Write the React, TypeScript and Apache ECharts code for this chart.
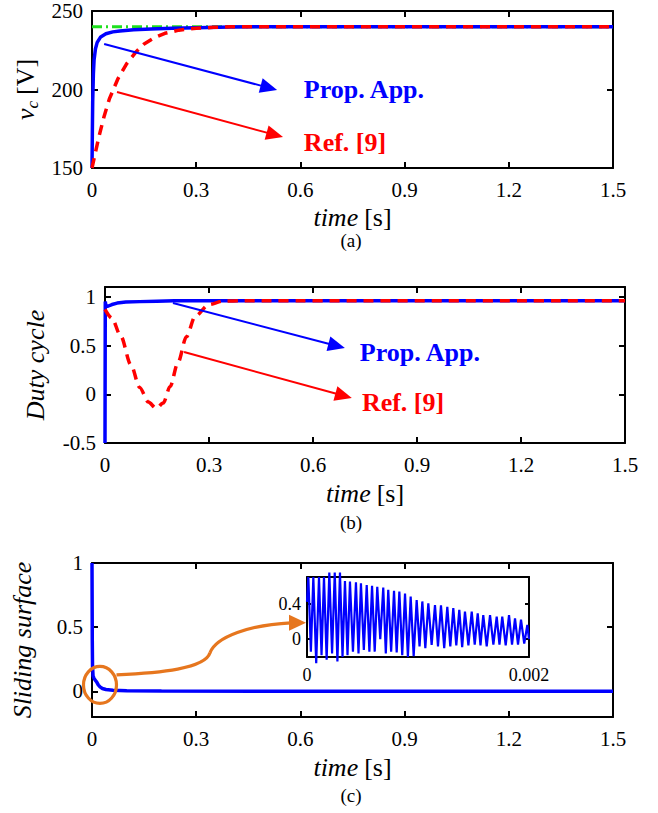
import React, { useEffect, useRef } from "react";
import * as echarts from "echarts";

// ---------- data ----------
// (a) capacitor voltage
const refATime = [0, 1.5];
const refAValue = [240, 240];
const propATime = [0, 0.001, 0.002, 0.004, 0.006, 0.01, 0.015, 0.025, 0.04, 0.06, 0.08, 0.12, 0.17, 0.23, 0.3, 0.4, 0.5, 0.7, 1.5];
const propAValue = [150, 172, 192, 210, 219, 226, 230, 233.5, 235.5, 236.7, 237.3, 238, 238.5, 239, 239.4, 239.8, 240, 240, 240];
const ref9ATime = [0, 0.01, 0.02, 0.035, 0.05, 0.075, 0.1, 0.125, 0.15, 0.18, 0.21, 0.25, 0.3, 0.35, 0.4, 1.5];
const ref9AValue = [150, 160, 170, 183, 194, 207, 216.5, 223.5, 229, 233, 235.8, 237.8, 239, 239.6, 240, 240];

// (b) duty cycle
const propBTime = [0, 0.0008, 0.003, 0.01, 0.02, 0.035, 0.06, 0.1, 0.15, 0.2, 0.3, 0.5, 1.5];
const propBValue = [-0.5, 0.95, 0.9, 0.905, 0.92, 0.935, 0.945, 0.95, 0.955, 0.958, 0.96, 0.96, 0.96];
const ref9BTime = [0, 0.02, 0.045, 0.075, 0.1, 0.125, 0.148, 0.168, 0.188, 0.21, 0.235, 0.26, 0.3, 0.34, 0.4, 1.5];
const ref9BValue = [0.87, 0.78, 0.6, 0.3, 0.07, -0.08, -0.145, -0.09, 0.08, 0.32, 0.59, 0.8, 0.92, 0.955, 0.96, 0.96];

// (c) sliding surface
const slideTime = [0, 0.0008, 0.0015, 0.003, 0.006, 0.01, 0.014, 0.018, 0.023, 0.03, 0.04, 0.06, 0.1, 0.2, 1.5];
const slideValue = [1, 0.4, 0.2, 0.12, 0.1, 0.085, 0.07, 0.05, 0.035, 0.022, 0.014, 0.008, 0.004, 0.002, 0];

// (c) inset: first 2 ms of the sliding surface
const insetTime = [
  0, 0.000012, 0.000035, 0.000057, 0.000083, 0.000108, 0.000131, 0.000153, 0.000177, 0.000201, 0.000226,
  0.00025, 0.000274, 0.000297, 0.00032, 0.000342, 0.000365, 0.000387, 0.000414, 0.000441, 0.000464,
  0.000486, 0.000512, 0.000538, 0.000562, 0.000586, 0.00061, 0.000633, 0.00066, 0.000687, 0.00071,
  0.000732, 0.000758, 0.000784, 0.000808, 0.000832, 0.000858, 0.000883, 0.000909, 0.000934, 0.000961,
  0.000988, 0.001014, 0.001039, 0.001066, 0.001093, 0.001123, 0.001153, 0.00118, 0.001207, 0.001236,
  0.001264, 0.001291, 0.001318, 0.001345, 0.001372, 0.001398, 0.001423, 0.001454, 0.001484, 0.001511,
  0.001538, 0.001563, 0.001588, 0.001619, 0.001649, 0.001679, 0.001709, 0.001734, 0.001759, 0.00179,
  0.00182, 0.001847, 0.001874, 0.001901, 0.001928, 0.001957, 0.001985, 0.002,
];
const insetValue = [
  0.42, 0.7, -0.14, 0.7, -0.27, 0.7, -0.18, 0.7, -0.23, 0.75, -0.16,
  0.75, -0.25, 0.75, -0.2, 0.655, -0.18, 0.65, -0.14, 0.64, -0.16,
  0.63, -0.12, 0.61, -0.14, 0.6, -0.14, 0.59, 0.0, 0.58, -0.16,
  0.555, -0.14, 0.545, -0.15, 0.535, -0.18, 0.515, -0.2, 0.48, -0.19,
  0.44, -0.08, 0.425, -0.1, 0.405, -0.065, 0.385, -0.08, 0.38, -0.1,
  0.365, -0.08, 0.35, -0.07, 0.33, -0.09, 0.31, -0.07, 0.31, -0.06,
  0.29, -0.07, 0.27, -0.08, 0.27, -0.06, 0.255, -0.06, 0.255, -0.07,
  0.27, -0.06, 0.235, -0.06, 0.22, -0.05, 0.16, 0.0,
];

// tick values
const timeTicks = [0, 0.3, 0.6, 0.9, 1.2, 1.5];
const vcTicks = [150, 200, 250];
const dutyTicks = [-0.5, 0, 0.5, 1];
const slideTicks = [0, 0.5, 1];
const insetXTicks = [0, 0.002];
const insetYTicks = [0, 0.4];

// ---------- styling ----------
const FONT = "Liberation Serif";
const BLUE = "#0000FF";
const RED = "#FF0000";
const GREEN = "#1EE01E";
const ORANGE = "#E6761E";

const zip = (t: number[], v: number[]) => t.map((x, i) => [x, v[i]]);

function xPair(g: number, min: number, max: number, ticks: number[], opt: any) {
  const line = { show: true, onZero: false, lineStyle: { color: "#000", width: opt.lw ?? 2 } };
  const tick = { show: true, inside: true, length: opt.tl ?? 6, customValues: ticks, lineStyle: { color: "#000", width: opt.lw ?? 2 } };
  return [
    {
      type: "value", gridIndex: g, position: "bottom", min, max,
      axisLine: line, axisTick: tick, splitLine: { show: false },
      axisLabel: { show: true, customValues: ticks, color: "#000", fontFamily: FONT, fontSize: opt.fs ?? 21, margin: opt.margin ?? 11, formatter: (v: number) => String(v) },
      name: opt.name ?? "", nameLocation: "middle", nameGap: opt.nameGap ?? 36,
      nameTextStyle: {
        fontWeight: "normal", fontFamily: FONT,
        rich: {
          i: { fontFamily: FONT, fontStyle: "italic", fontWeight: "normal", fontSize: 26, color: "#000" },
          n: { fontFamily: FONT, fontWeight: "normal", fontSize: 26, color: "#000", padding: [0, 0, 0, 6] },
        },
      },
    },
    {
      type: "value", gridIndex: g, position: "top", min, max,
      axisLine: line, axisTick: opt.topTicks === false ? { show: false } : tick, splitLine: { show: false }, axisLabel: { show: false },
    },
  ];
}

function yPair(g: number, min: number, max: number, ticks: number[], opt: any) {
  const line = { show: true, onZero: false, lineStyle: { color: "#000", width: opt.lw ?? 2 } };
  const tick = { show: true, inside: true, length: opt.tl ?? 6, customValues: ticks, lineStyle: { color: "#000", width: opt.lw ?? 2 } };
  return [
    {
      type: "value", gridIndex: g, position: "left", min, max,
      axisLine: line, axisTick: tick, splitLine: { show: false },
      axisLabel: { show: true, customValues: ticks, color: "#000", fontFamily: FONT, fontSize: opt.fs ?? 21, margin: opt.margin ?? 9, formatter: (v: number) => String(v) },
      name: opt.name ?? "", nameLocation: "middle", nameRotate: 90, nameGap: opt.nameGap ?? 50,
      nameTextStyle: {
        fontWeight: "normal", fontFamily: FONT,
        rich: {
          i: { fontFamily: FONT, fontStyle: "italic", fontWeight: "normal", fontSize: 26, color: "#000", lineHeight: 30 },
          s: { fontFamily: FONT, fontStyle: "italic", fontWeight: "normal", fontSize: 17, color: "#000", verticalAlign: "bottom", lineHeight: 30 },
          n: { fontFamily: FONT, fontWeight: "normal", fontSize: 26, color: "#000", lineHeight: 30, padding: [0, 0, 0, 6] },
        },
      },
    },
    {
      type: "value", gridIndex: g, position: "right", min, max,
      axisLine: line, axisTick: tick, splitLine: { show: false }, axisLabel: { show: false },
    },
  ];
}

function lineSeries(xi: number, data: number[][], color: string, width: number, type: any, extra: any = {}) {
  return {
    type: "line", xAxisIndex: xi, yAxisIndex: xi, data, showSymbol: false, symbol: "none", silent: true,
    lineStyle: { color, width, type }, ...extra,
  };
}

function arrow(p0: number[], p1: number[], color: string, head = 17, hw = 7.5, lw = 2) {
  const dx = p1[0] - p0[0];
  const dy = p1[1] - p0[1];
  const L = Math.hypot(dx, dy);
  const ux = dx / L, uy = dy / L;
  const bx = p1[0] - ux * head, by = p1[1] - uy * head;
  const nx = -uy, ny = ux;
  return [
    { type: "line", z: 100, shape: { x1: p0[0], y1: p0[1], x2: bx + ux * 2, y2: by + uy * 2 }, style: { stroke: color, lineWidth: lw } },
    { type: "polygon", z: 100, shape: { points: [[p1[0], p1[1]], [bx + nx * hw, by + ny * hw], [bx - nx * hw, by - ny * hw]] }, style: { fill: color } },
  ];
}

export default function App() {
  const ref = useRef<HTMLDivElement>(null);
  useEffect(() => {
    if (!ref.current) return;
    const chart = echarts.init(ref.current, undefined, { renderer: "svg" });
    const option: any = {
      animation: false,
      backgroundColor: "#fff",
      grid: [
        { left: 92, top: 11, width: 521, height: 157 },
        { left: 105, top: 287, width: 520, height: 156 },
        { left: 92, top: 563, width: 521, height: 154 },
        { left: 307, top: 577, width: 222, height: 80, show: true, backgroundColor: "#fff", borderWidth: 0 },
      ],
      xAxis: [
        ...xPair(0, 0, 1.5, timeTicks, { name: "{i|time}{n|[s]}", nameGap: 36 }),
        ...xPair(1, 0, 1.5, timeTicks, { name: "{i|time}{n|[s]}", nameGap: 37 }),
        ...xPair(2, 0, 1.5, timeTicks, { name: "{i|time}{n|[s]}", nameGap: 37 }),
        ...xPair(3, 0, 0.002, insetXTicks, { fs: 18, margin: 9, tl: 4, topTicks: false }),
      ],
      yAxis: [
        ...yPair(0, 150, 250, vcTicks, { name: "{i|v}{s|c}{n|[V]}", nameGap: 48 }),
        ...yPair(1, -0.5, 1.1, dutyTicks, { name: "{i|Duty cycle}", nameGap: 55 }),
        ...yPair(2, -0.2, 1, slideTicks, { name: "{i|Sliding surface}", nameGap: 55 }),
        ...yPair(3, -0.2, 0.7, insetYTicks, { fs: 18, margin: 6, tl: 4 }),
      ],
      series: [
        lineSeries(0, zip(refATime, refAValue), GREEN, 3, [10, 4, 2, 4]),
        lineSeries(0, zip(propATime, propAValue), BLUE, 3.5, "solid"),
        lineSeries(0, zip(ref9ATime, ref9AValue), RED, 3.5, [10, 7]),
        lineSeries(2, zip(propBTime, propBValue), BLUE, 3.5, "solid"),
        lineSeries(2, zip(ref9BTime, ref9BValue), RED, 3.5, [10, 7], { smooth: 0.3, smoothMonotone: "x" }),
        lineSeries(4, zip(slideTime, slideValue), BLUE, 3.5, "solid"),
        lineSeries(6, zip(insetTime, insetValue), BLUE, 2.2, "solid", { clip: false }),
      ],
    };
    chart.setOption(option);

    const px = (xi: number, p: number[]) => chart.convertToPixel({ xAxisIndex: xi, yAxisIndex: xi } as any, p) as number[];

    const textStyle = (color: string) => ({ fill: color, font: `bold 26px ${FONT}`, textVerticalAlign: "middle", textAlign: "left" });
    const graphic: any[] = [];
    // (a) arrows and labels
    graphic.push(...arrow(px(0, [0.035, 229]), px(0, [0.533, 199.7]), BLUE));
    graphic.push(...arrow(px(0, [0.072, 198.4]), px(0, [0.55, 169.7]), RED));
    const aP = px(0, [0.61, 199.7]);
    const aR = px(0, [0.61, 166]);
    graphic.push({ type: "text", z: 100, x: aP[0], y: aP[1], style: { text: "Prop. App.", ...textStyle(BLUE) } });
    graphic.push({ type: "text", z: 100, x: aR[0], y: aR[1], style: { text: "Ref. [9]", ...textStyle(RED) } });
    // (b) arrows and labels
    graphic.push(...arrow(px(2, [0.196, 0.936]), px(2, [0.692, 0.474]), BLUE));
    graphic.push(...arrow(px(2, [0.228, 0.433]), px(2, [0.712, -0.038]), RED));
    const bP = px(2, [0.735, 0.433]);
    const bR = px(2, [0.741, -0.08]);
    graphic.push({ type: "text", z: 100, x: bP[0], y: bP[1], style: { text: "Prop. App.", ...textStyle(BLUE) } });
    graphic.push({ type: "text", z: 100, x: bR[0], y: bR[1], style: { text: "Ref. [9]", ...textStyle(RED) } });
    // (c) zoom circle and connector to inset
    const c = px(4, [0.023, 0.05]);
    graphic.push({ type: "ellipse", z: 100, shape: { cx: c[0], cy: c[1], rx: 16.5, ry: 18.5 }, style: { stroke: ORANGE, lineWidth: 3.2, fill: "none" } });
    const s0 = [c[0] + 16.5, c[1] - 10];
    const tip = px(6, [0, 0.185]);
    const mid = [210, (s0[1] + tip[1]) / 2 + 4];
    graphic.push({ type: "bezierCurve", z: 100, shape: { x1: s0[0], y1: s0[1], cpx1: 160, cpy1: s0[1] - 2, cpx2: 205, cpy2: mid[1] + 16, x2: mid[0], y2: mid[1] }, style: { stroke: ORANGE, lineWidth: 3.2, fill: "none" } });
    graphic.push({ type: "bezierCurve", z: 100, shape: { x1: mid[0], y1: mid[1], cpx1: 216, cpy1: mid[1] - 16, cpx2: 250, cpy2: tip[1] + 2, x2: tip[0] - 16, y2: tip[1] }, style: { stroke: ORANGE, lineWidth: 3.2, fill: "none" } });
    graphic.push({ type: "polygon", z: 100, shape: { points: [[tip[0] - 1, tip[1]], [tip[0] - 18, tip[1] - 8], [tip[0] - 18, tip[1] + 8]] }, style: { fill: ORANGE } });
    // panel captions
    const cap = (t: string, x: number, y: number) => ({ type: "text", z: 100, x, y, style: { text: t, fill: "#000", font: `19px ${FONT}`, textAlign: "center", textVerticalAlign: "middle" } });
    graphic.push(cap("(a)", 351, 240));
    graphic.push(cap("(b)", 351, 522));
    graphic.push(cap("(c)", 351, 795));

    chart.setOption({ graphic });
    return () => chart.dispose();
  }, []);
  return <div ref={ref} style={{ position: "absolute", left: 0, top: 0, width: 658, height: 813 }} />;
}
